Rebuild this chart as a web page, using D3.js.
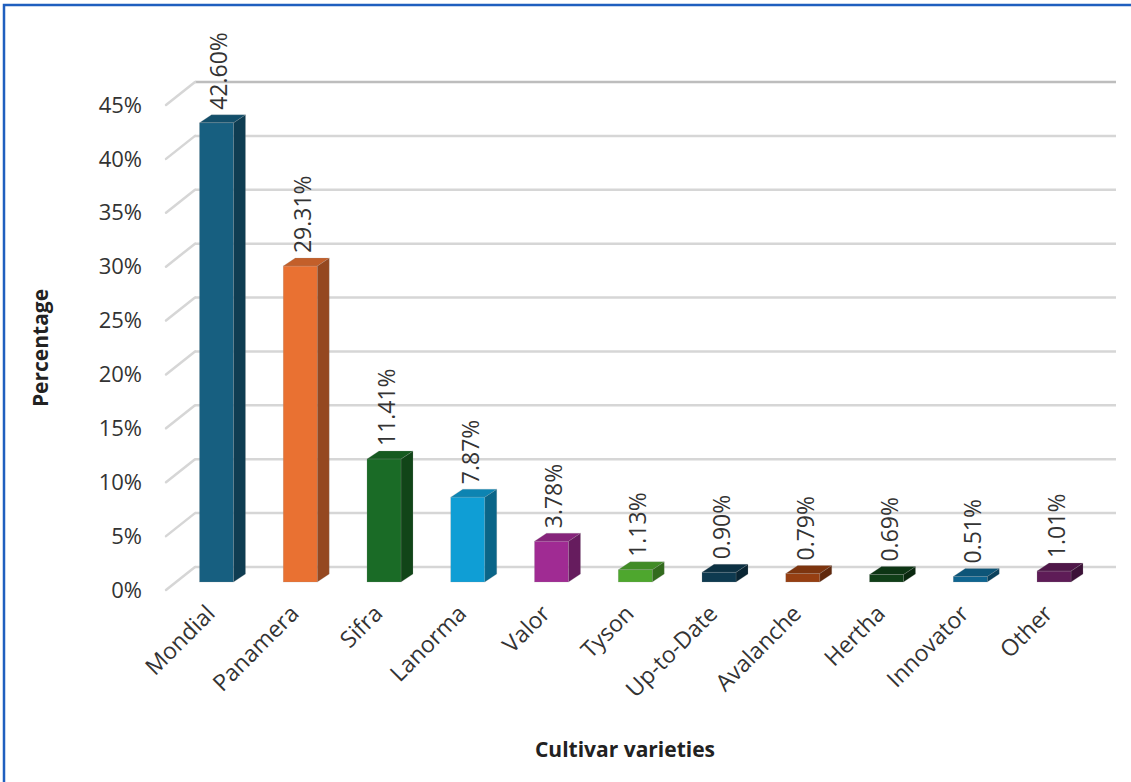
<!DOCTYPE html>
<html>
<head>
<meta charset="utf-8">
<script src="https://cdn.jsdelivr.net/npm/d3@7"></script>
<style>
  body { margin: 0; background: #fff; }
  svg { display: block; }
  .tick-label, .bar-label, .cat-label { font-family: "Open Sans", sans-serif; fill: #333; }
  .axis-title { font-family: "Liberation Sans Narrow", "Arial Narrow", "Open Sans", sans-serif; font-weight: bold; fill: #222; }
</style>
</head>
<body>
<svg id="chart" width="1131" height="782"></svg>
<script>
const categories = ['Mondial', 'Panamera', 'Sifra', 'Lanorma', 'Valor', 'Tyson',
                    'Up-to-Date', 'Avalanche', 'Hertha', 'Innovator', 'Other'];
const values = [42.60, 29.31, 11.41, 7.87, 3.78, 1.13, 0.90, 0.79, 0.69, 0.51, 1.01];
const yTicks = [0, 5, 10, 15, 20, 25, 30, 35, 40, 45];
const colors = ['#175f80', '#e97132', '#1a6b26', '#0f9ed5', '#a02b93', '#4ea72e',
                '#0e3a50', '#963f12', '#103f18', '#0f6590', '#5e1c57'];

const svg = d3.select('#chart');

// chart frame (only top/left edges show in the picture)
svg.append('rect')
    .attr('x', 4).attr('y', 5)
    .attr('width', 1200).attr('height', 900)
    .attr('fill', 'none')
    .attr('stroke', '#1f5fbf')
    .attr('stroke-width', 2.5);

// back wall scale, floor offset and bar depth
const y = d3.scaleLinear().domain([0, 45]).range([567, 82]);
const wallLeft = 195, wallRight = 1116;
const floorDx = -29, floorDy = 23;   // from back wall to front edge
const barDy = 15;                    // bar front face sits in front of the wall
const depthDx = 12, depthDy = -8;    // bar depth

const x = d3.scaleBand()
    .domain(categories)
    .range([174.6, 1095.9])
    .paddingInner(0.594)
    .paddingOuter(0.297);

// grid lines
const grid = svg.append('g').attr('class', 'grid');
yTicks.forEach(t => {
    const yy = y(t);
    const col = t === 45 ? '#bdbdbd' : '#d6d6d6';
    grid.append('line')
        .attr('x1', wallLeft).attr('y1', yy)
        .attr('x2', wallRight).attr('y2', yy)
        .attr('stroke', col).attr('stroke-width', 2.5);
    grid.append('line')
        .attr('x1', wallLeft + floorDx).attr('y1', yy + floorDy)
        .attr('x2', wallLeft).attr('y2', yy)
        .attr('stroke', '#d6d6d6').attr('stroke-width', 2.5)
        .attr('stroke-linecap', 'round');
});

// y tick labels
svg.append('g').selectAll('text')
    .data(yTicks)
    .join('text')
    .attr('class', 'tick-label')
    .attr('x', 142)
    .attr('y', d => y(d) + floorDy)
    .attr('dy', '0.35em')
    .attr('text-anchor', 'end')
    .style('font-size', '22px')
    .text(d => d + '%');

// 3D bars
const bars = svg.append('g').selectAll('g')
    .data(categories.map((c, i) => ({ c, v: values[i], col: colors[i] })))
    .join('g');

bars.each(function(d) {
    const g = d3.select(this);
    const x0 = x(d.c), x1 = x0 + x.bandwidth();
    const yb = y(0) + barDy, yt = y(d.v) + barDy;
    const base = d3.color(d.col);
    g.append('path')
        .attr('d', `M${x1},${yt}L${x1 + depthDx},${yt + depthDy}L${x1 + depthDx},${yb + depthDy}L${x1},${yb}Z`)
        .attr('fill', base.darker(1.25))
        .attr('stroke', 'rgba(150,150,150,0.35)').attr('stroke-width', 0.6);
    g.append('path')
        .attr('d', `M${x0},${yt}L${x1},${yt}L${x1 + depthDx},${yt + depthDy}L${x0 + depthDx},${yt + depthDy}Z`)
        .attr('fill', base.darker(0.5))
        .attr('stroke', 'rgba(150,150,150,0.35)').attr('stroke-width', 0.6);
    g.append('rect')
        .attr('x', x0).attr('y', yt)
        .attr('width', x.bandwidth()).attr('height', yb - yt)
        .attr('fill', d.col)
        .attr('stroke', 'rgba(150,150,150,0.35)').attr('stroke-width', 0.6);
});

// value labels
bars.append('text')
    .attr('class', 'bar-label')
    .attr('transform', d => `translate(${x(d.c) + x.bandwidth() / 2 + 11},${y(d.v) + barDy - 13}) rotate(-90)`)
    .style('font-size', '23px')
    .text(d => d.v.toFixed(2) + '%');

// category labels
svg.append('g').selectAll('text')
    .data(categories)
    .join('text')
    .attr('class', 'cat-label')
    .attr('transform', d => `translate(${x(d) + x.bandwidth() / 2},${615}) rotate(-45)`)
    .attr('text-anchor', 'end')
    .style('font-size', '23px')
    .text(d => d);

// axis titles
svg.append('text')
    .attr('class', 'axis-title')
    .attr('transform', 'translate(48,348) rotate(-90)')
    .attr('text-anchor', 'middle')
    .style('font-size', '21px')
    .text('Percentage');

svg.append('text')
    .attr('class', 'axis-title')
    .attr('x', 625).attr('y', 757)
    .attr('text-anchor', 'middle')
    .style('font-size', '21px')
    .text('Cultivar varieties');
</script>
</body>
</html>
